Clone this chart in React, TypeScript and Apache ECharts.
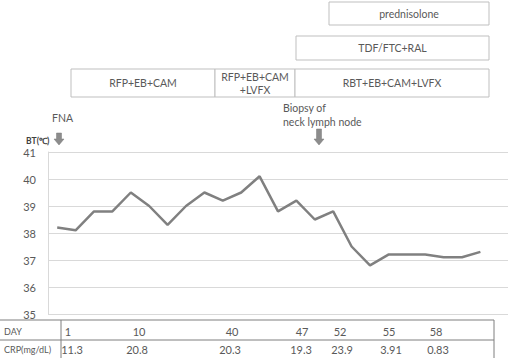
import React, { useEffect, useRef } from "react";
import * as echarts from "echarts";

const bodyTemp = [38.2, 38.1, 38.8, 38.8, 39.5, 39.0, 38.3, 39.0, 39.5, 39.2, 39.5, 40.1, 38.8, 39.2, 38.5, 38.8, 37.5, 36.8, 37.2, 37.2, 37.2, 37.1, 37.1, 37.3, null];
const categories = bodyTemp.map((_, i) => String(i + 1));
const dayLabels = ["1", "10", "40", "47", "52", "55", "58"];
const crpLabels = ["11.3", "20.8", "20.3", "19.3", "23.9", "3.91", "0.83"];
const dayX = [68, 139, 232, 302, 340, 389, 436];
const crpX = [72, 137, 230, 301, 342, 391, 438];

const FONT = "Lato";
const TXT = "#595959";
const BORDER = "#bfbfbf";

function box(x: number, y: number, w: number, h: number, lines: string[]) {
  const els: any[] = [
    { type: "rect", shape: { x, y, width: w, height: h }, style: { fill: "#fff", stroke: BORDER, lineWidth: 1 } },
  ];
  const n = lines.length;
  lines.forEach((t, i) => {
    els.push({
      type: "text",
      x: x + w / 2,
      y: y + h / 2 + (i - (n - 1) / 2) * 13,
      style: { text: t, fill: TXT, font: `10.5px ${FONT}`, textAlign: "center", textVerticalAlign: "middle" },
    });
  });
  return els;
}

function arrow(cx: number, top: number, bottom: number) {
  const headH = 6;
  return {
    type: "polygon",
    shape: {
      points: [
        [cx - 2.5, top], [cx + 2.5, top], [cx + 2.5, bottom - headH], [cx + 5, bottom - headH],
        [cx, bottom], [cx - 5, bottom - headH], [cx - 2.5, bottom - headH],
      ],
    },
    style: { fill: "#8c8c8c", stroke: "#7a7a7a", lineWidth: 0.5 },
  };
}

export default function App() {
  const ref = useRef<HTMLDivElement>(null);
  useEffect(() => {
    if (!ref.current) return;
    const chart = echarts.init(ref.current, null, { renderer: "svg" });
    const graphics: any[] = [
      ...box(329, 2, 160, 23, ["prednisolone"]),
      ...box(296, 36, 193, 24, ["TDF/FTC+RAL"]),
      ...box(71, 69, 144, 28, ["RFP+EB+CAM"]),
      ...box(215, 69, 80, 28, ["RFP+EB+CAM", "+LVFX"]),
      ...box(295, 69, 194, 28, ["RBT+EB+CAM+LVFX"]),
      { type: "text", x: 52, y: 118, style: { text: "FNA", fill: TXT, font: `10.5px ${FONT}`, textVerticalAlign: "middle" } },
      { type: "text", x: 283, y: 108, style: { text: "Biopsy of", fill: TXT, font: `10.5px ${FONT}`, textVerticalAlign: "middle" } },
      { type: "text", x: 283, y: 122, style: { text: "neck lymph node", fill: TXT, font: `10.5px ${FONT}`, textVerticalAlign: "middle" } },
      { type: "text", x: 26, y: 141, style: { text: "BT(℃)", fill: "#404040", font: `bold 8.5px ${FONT}`, textVerticalAlign: "middle" } },
      arrow(59, 133, 145),
      arrow(319, 129, 145),
      // table
      { type: "line", shape: { x1: 0, y1: 320, x2: 494, y2: 320 }, style: { stroke: "#7f7f7f", lineWidth: 1 } },
      { type: "line", shape: { x1: 0, y1: 340, x2: 494, y2: 340 }, style: { stroke: "#7f7f7f", lineWidth: 1 } },
      { type: "line", shape: { x1: 61, y1: 320, x2: 61, y2: 358 }, style: { stroke: "#7f7f7f", lineWidth: 1 } },
      { type: "line", shape: { x1: 494, y1: 320, x2: 494, y2: 358 }, style: { stroke: "#7f7f7f", lineWidth: 1 } },
      { type: "text", x: 4, y: 331, style: { text: "DAY", fill: TXT, font: `9px ${FONT}`, textVerticalAlign: "middle" } },
      { type: "text", x: 4, y: 349, style: { text: "CRP(mg/dL)", fill: TXT, font: `9px ${FONT}`, textVerticalAlign: "middle" } },
      ...dayLabels.map((t, i) => ({ type: "text", x: dayX[i], y: 331, style: { text: t, fill: TXT, font: `11px ${FONT}`, textAlign: "center", textVerticalAlign: "middle" } })),
      ...crpLabels.map((t, i) => ({ type: "text", x: crpX[i], y: 349, style: { text: t, fill: TXT, font: `11px ${FONT}`, textAlign: "center", textVerticalAlign: "middle" } })),
    ];
    chart.setOption({
      animation: false,
      grid: { left: 48, right: 2, top: 152, bottom: 44 },
      xAxis: {
        type: "category",
        data: categories,
        boundaryGap: true,
        axisLine: { show: false },
        axisTick: { show: false },
        axisLabel: { show: false },
      },
      yAxis: {
        type: "value",
        min: 35,
        max: 41,
        interval: 1,
        axisLine: { show: true, lineStyle: { color: "#d9d9d9" } },
        axisTick: { show: false },
        axisLabel: { color: TXT, fontSize: 11, fontFamily: FONT, margin: 12 },
        splitLine: { lineStyle: { color: "#d9d9d9", width: 1 } },
      },
      series: [
        {
          type: "line",
          data: bodyTemp,
          symbol: "none",
          lineStyle: { color: "#808080", width: 2.5 },
        },
      ],
      graphic: graphics,
    });
    return () => chart.dispose();
  }, []);
  return <div ref={ref} style={{ width: 510, height: 358, position: "absolute", left: 0, top: 0 }} />;
}
